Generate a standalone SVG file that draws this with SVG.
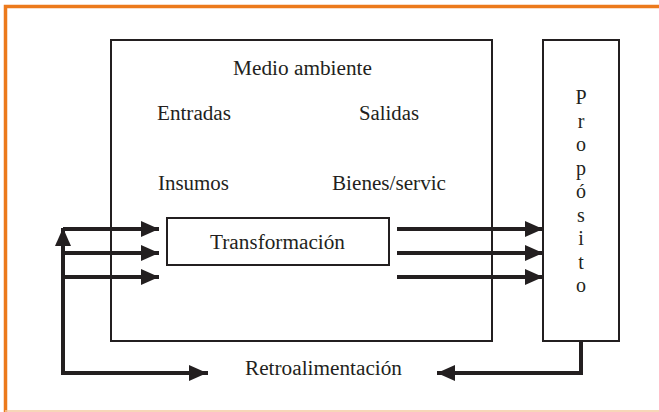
<svg xmlns="http://www.w3.org/2000/svg" width="659" height="412" viewBox="0 0 659 412">
<defs>
<style>
.frame{fill:none;stroke:#ec7a1c;stroke-width:3.5}
.box{fill:#fff;stroke:#231f20;stroke-width:2}
.arr{fill:none;stroke:#231f20;stroke-width:4}
.head{fill:#231f20}
.t{font-family:'Liberation Serif','DejaVu Serif',serif;font-size:20px;fill:#231f20;text-anchor:middle}
</style>
<marker id="ah" viewBox="0 0 18 16" refX="18" refY="8" markerWidth="18" markerHeight="16" markerUnits="userSpaceOnUse" orient="auto">
<path d="M0,0 L18,8 L0,16 Z" class="head"/>
</marker>
</defs>
<rect width="659" height="412" fill="#fff"/>
<g id="frame">
<path class="frame" d="M659,6.5 H5.5 V412"/>
<line x1="5" y1="411" x2="659" y2="411" stroke="#f5c9a0" stroke-width="1.5"/>
</g>
<g id="medio-ambiente" class="t" font-family="Liberation Serif, DejaVu Serif, serif">
<rect class="box" x="111" y="40" width="381" height="301"/>
<text x="302.5" y="75" textLength="139" lengthAdjust="spacingAndGlyphs">Medio ambiente</text>
<text x="194" y="120" textLength="74" lengthAdjust="spacingAndGlyphs">Entradas</text>
<text x="389" y="120" textLength="60" lengthAdjust="spacingAndGlyphs">Salidas</text>
<text x="193.5" y="190" textLength="71" lengthAdjust="spacingAndGlyphs">Insumos</text>
<text x="389" y="190" textLength="114" lengthAdjust="spacingAndGlyphs">Bienes/servic</text>
</g>
<g id="transformacion" class="t" font-family="Liberation Serif, DejaVu Serif, serif">
<rect class="box" x="167" y="218" width="222" height="47"/>
<text x="277.5" y="249" textLength="135" lengthAdjust="spacingAndGlyphs">Transformación</text>
</g>
<g id="proposito" class="t" font-family="Liberation Serif, DejaVu Serif, serif">
<rect class="box" x="543" y="40" width="76" height="301"/>
<text x="581" y="104">P</text>
<text x="581" y="127.5">r</text>
<text x="581" y="151">o</text>
<text x="581" y="174.5">p</text>
<text x="581" y="198">ó</text>
<text x="581" y="221.5">s</text>
<text x="581" y="245">i</text>
<text x="581" y="268.5">t</text>
<text x="581" y="292">o</text>
</g>
<g id="retroalimentacion" class="t" font-family="Liberation Serif, DejaVu Serif, serif">
<text x="323.5" y="375" textLength="157" lengthAdjust="spacingAndGlyphs">Retroalimentación</text>
</g>
<g id="connectors">
<line class="arr" x1="63" y1="229" x2="159" y2="229" marker-end="url(#ah)"/>
<line class="arr" x1="63" y1="253" x2="159" y2="253" marker-end="url(#ah)"/>
<line class="arr" x1="63" y1="277" x2="159" y2="277" marker-end="url(#ah)"/>
<line class="arr" x1="397" y1="229" x2="543" y2="229" marker-end="url(#ah)"/>
<line class="arr" x1="397" y1="253" x2="543" y2="253" marker-end="url(#ah)"/>
<line class="arr" x1="397" y1="277" x2="543" y2="277" marker-end="url(#ah)"/>
<path class="arr" d="M581,341 V373 H437" marker-end="url(#ah)"/>
<path class="arr" d="M208,373 H63 V228" marker-end="url(#ah)"/>
<line class="arr" x1="63" y1="373" x2="207" y2="373" marker-end="url(#ah)"/>
</g>
</svg>
